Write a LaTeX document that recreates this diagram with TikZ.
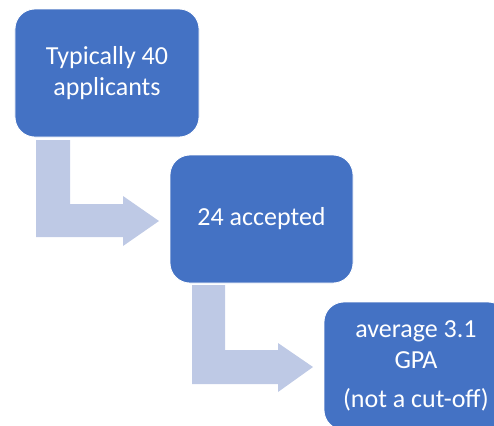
\documentclass[tikz,border=0pt]{standalone}
\usepackage{fontspec}
\setmainfont{Carlito}
\definecolor{boxblue}{RGB}{68,114,196}
\definecolor{arrowblue}{RGB}{190,201,229}
\begin{document}
\begin{tikzpicture}[x=1bp,y=-1bp,
  box/.style={draw=white, line width=0.8bp, fill=boxblue, rounded corners=20bp, text=white,
    align=center, inner sep=0pt, font=\fontsize{26bp}{31bp}\selectfont},
  bentarrow/.style={fill=arrowblue, draw=none}]
\useasboundingbox (0,0) rectangle (494,425);
\begin{scope}
\clip (0,0) rectangle (494,425);
\node[box, minimum width=184bp, minimum height=128bp] (b1) at (107,73) {Typically 40\\applicants};
\node[box, minimum width=183bp, minimum height=128bp] (b2) at (261.5,219) {24 accepted};
\node[box, minimum width=184bp, minimum height=128bp] (b3) at (416,366) {average 3.1\\GPA\\[8bp](not a cut-off)};
\fill[bentarrow] (36,140) -- (70,140) -- (70,204) -- (123,204) -- (123,196) -- (159,221) -- (123,246) -- (123,237) -- (36,237) -- cycle;
\fill[bentarrow] (192,285) -- (225,285) -- (225,350) -- (278,350) -- (278,343) -- (313,367) -- (278,392) -- (278,384) -- (192,384) -- cycle;
\end{scope}
\end{tikzpicture}
\end{document}
